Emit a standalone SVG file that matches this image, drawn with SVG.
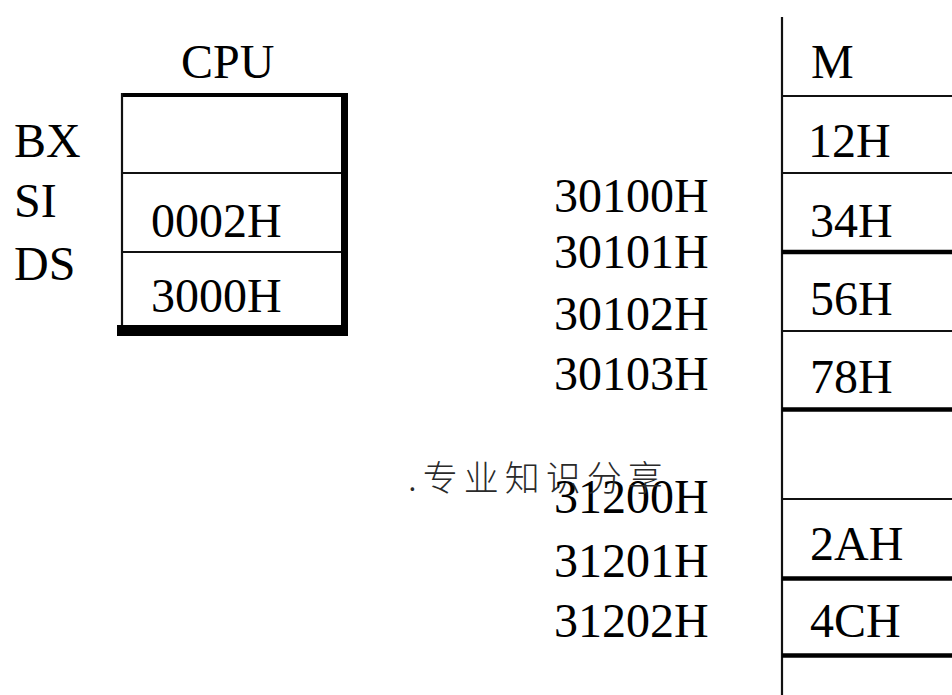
<svg xmlns="http://www.w3.org/2000/svg" width="952" height="695" viewBox="0 0 952 695">
<style>
text{font-family:"Liberation Serif","Times New Roman",serif;font-size:48px;fill:#000}
.wm{font-family:"Noto Sans CJK SC","Noto Sans",sans-serif;font-size:35px;letter-spacing:6px;font-weight:300;fill:#2a2a2a}
.thin{stroke:#111;stroke-width:2.2;fill:none}
.thick{stroke:#000;stroke-width:4.5;fill:none}
</style>
<rect width="952" height="695" fill="#fff"/>
<g id="cpu">
<text x="181" y="78">CPU</text>
<rect x="121" y="93" width="227" height="4" fill="#000"/>
<line class="thin" x1="122" y1="93" x2="122" y2="326"/>
<rect x="341" y="93" width="7" height="243" fill="#000"/>
<rect x="117" y="325" width="231" height="11" fill="#000"/>
<line class="thin" x1="122" y1="173" x2="341" y2="173"/>
<line class="thin" x1="122" y1="252" x2="341" y2="252"/>
</g>
<g id="reg-bx"><text x="14" y="157">BX</text></g>
<g id="reg-si"><text x="14" y="217">SI</text><text x="151" y="237">0002H</text></g>
<g id="reg-ds"><text x="14" y="280">DS</text><text x="151" y="312">3000H</text></g>
<g id="memory">
<line class="thin" x1="782" y1="17" x2="782" y2="695" stroke-width="2.5"/>
<text x="811" y="78">M</text>
<line class="thin" x1="782" y1="96" x2="952" y2="96"/>
<line class="thin" x1="782" y1="173" x2="952" y2="173"/>
<line class="thick" x1="782" y1="252" x2="952" y2="252"/>
<line class="thin" x1="782" y1="331" x2="952" y2="331"/>
<line class="thick" x1="782" y1="409.5" x2="952" y2="409.5"/>
<line class="thin" x1="782" y1="499" x2="952" y2="499"/>
<line class="thick" x1="782" y1="578.5" x2="952" y2="578.5"/>
<line class="thick" x1="782" y1="655.5" x2="952" y2="655.5"/>
</g>
<g id="cell-30100"><text x="808" y="157">12H</text><text x="554" y="212">30100H</text></g>
<g id="cell-30101"><text x="810" y="237">34H</text><text x="554" y="268">30101H</text></g>
<g id="cell-30102"><text x="810" y="315">56H</text><text x="554" y="330">30102H</text></g>
<g id="cell-30103"><text x="810" y="393">78H</text><text x="554" y="390">30103H</text></g>
<g id="cell-31200"><text x="554" y="513">31200H</text></g>
<g id="cell-31201"><text x="810" y="560">2AH</text><text x="554" y="577">31201H</text></g>
<g id="cell-31202"><text x="810" y="637">4CH</text><text x="554" y="637">31202H</text></g>
<text class="wm" x="408" y="491">.专业知识分享</text>
</svg>
